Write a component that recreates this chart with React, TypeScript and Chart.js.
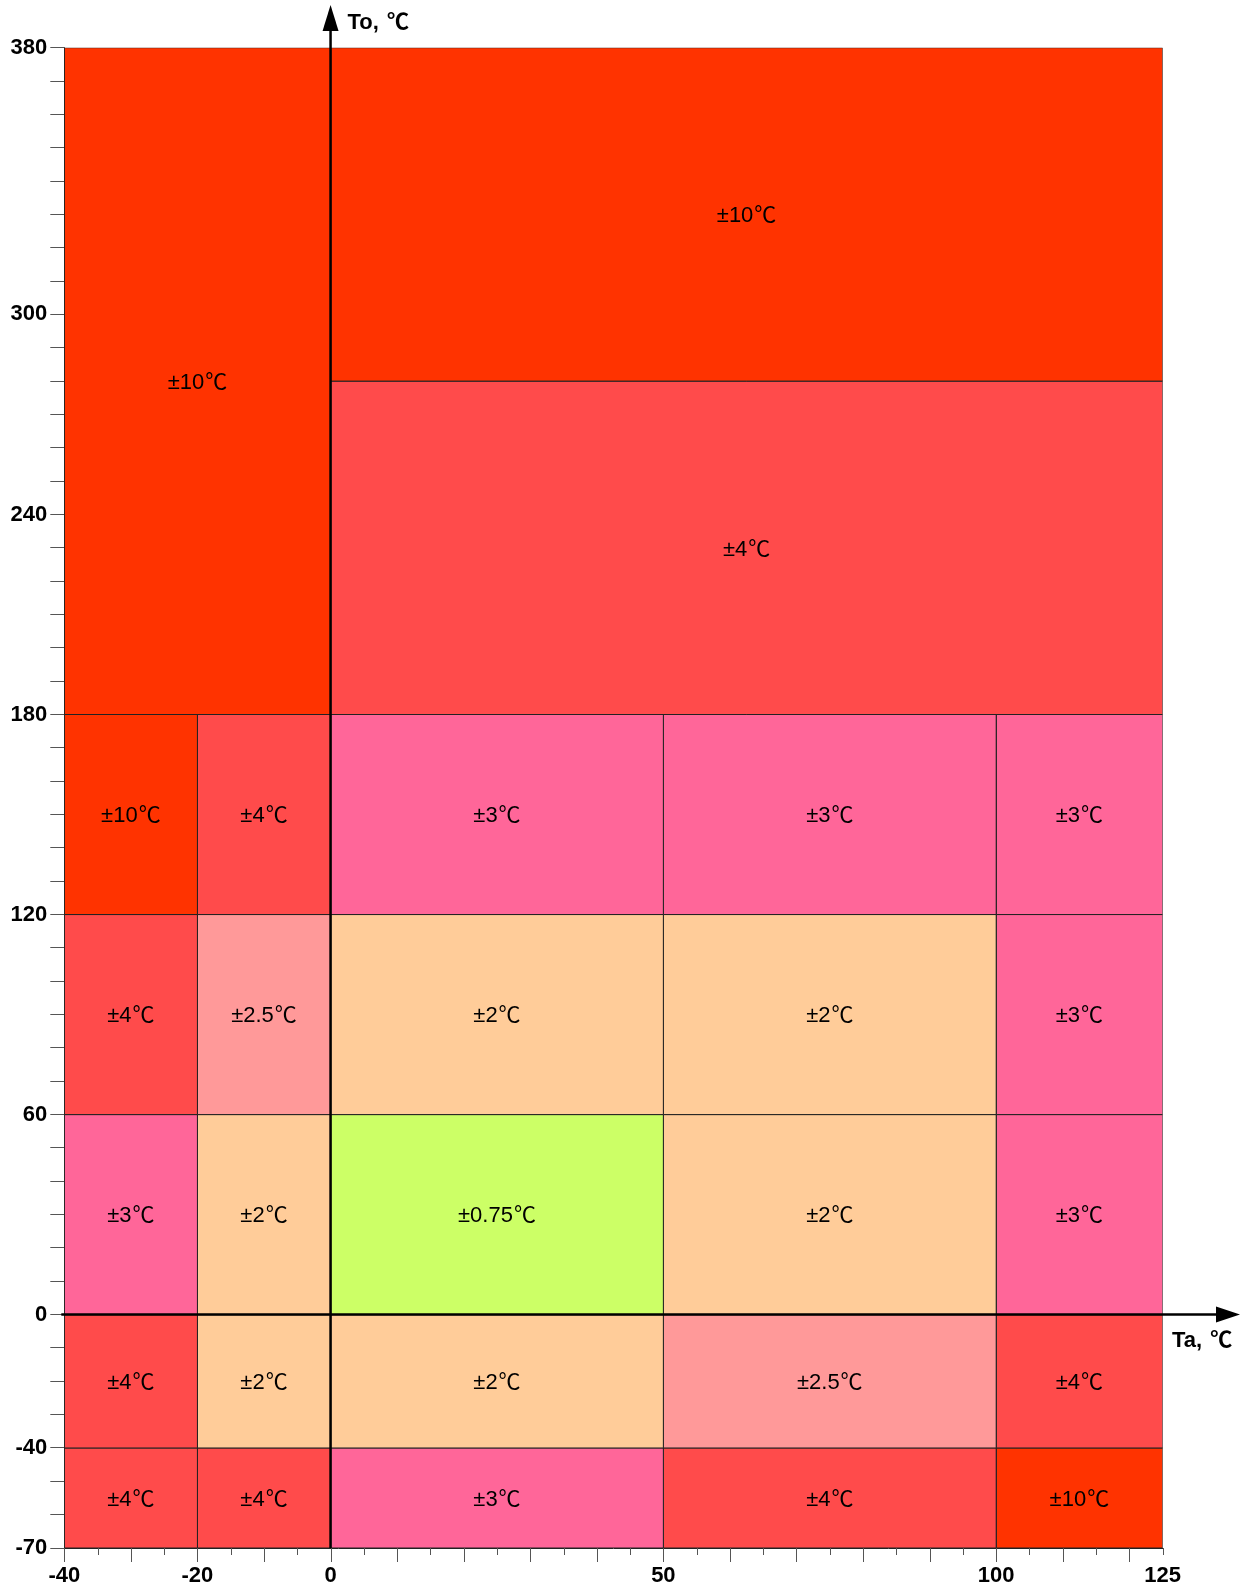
import React, { useEffect, useRef } from "react";
import { Chart, registerables } from "chart.js";

Chart.register(...registerables);

const WIDTH = 1249;
const HEIGHT = 1593;

// Cells of the accuracy map: Ta range (x), To range (y) and accuracy (±℃)
const cellTaFrom = [-40, 0, 0, -40, -20, 0, 50, 100, -40, -20, 0, 50, 100, -40, -20, 0, 50, 100, -40, -20, 0, 50, 100, -40, -20, 0, 50, 100];
const cellTaTo = [0, 125, 125, -20, 0, 50, 100, 125, -20, 0, 50, 100, 125, -20, 0, 50, 100, 125, -20, 0, 50, 100, 125, -20, 0, 50, 100, 125];
const cellToFrom = [180, 280, 180, 120, 120, 120, 120, 120, 60, 60, 60, 60, 60, 0, 0, 0, 0, 0, -40, -40, -40, -40, -40, -70, -70, -70, -70, -70];
const cellToTo = [380, 380, 280, 180, 180, 180, 180, 180, 120, 120, 120, 120, 120, 60, 60, 60, 60, 60, 0, 0, 0, 0, 0, -40, -40, -40, -40, -40];
const cellAccuracy = [10, 10, 4, 10, 4, 3, 3, 3, 4, 2.5, 2, 2, 3, 3, 2, 0.75, 2, 3, 4, 2, 2, 2.5, 4, 4, 4, 3, 4, 10];

const accuracyColors: Record<string, string> = {
  "10": "#FF3300",
  "4": "#FF4B4B",
  "3": "#FF6699",
  "2.5": "#FF9999",
  "2": "#FFCC99",
  "0.75": "#CCFF66",
};

const xTickValues = [-40, -35, -30, -25, -20, -15, -10, -5, 0, 5, 10, 15, 20, 25, 30, 35, 40, 45, 50, 55, 60, 65, 70, 75, 80, 85, 90, 95, 100, 105, 110, 115, 120, 125];
const xTickLabels = [-40, -20, 0, 50, 100, 125];
const yTickLabels = [380, 300, 240, 180, 120, 60, 0, -40, -70];
const yMin = -70;
const yMax = 380;
const yTickStep = 10;

const xTitle = "Ta, ";
const yTitle = "To, ";
const unit = "℃";

const LATIN = '"Liberation Sans", Arial, sans-serif';
const CJK = '"Noto Sans CJK JP", "Noto Sans CJK SC", sans-serif';

// draws "main" in a Latin face and "tail" (℃) in a CJK face on a shared
// alphabetic baseline, vertically centred on y by cap height
function drawMixed(ctx: CanvasRenderingContext2D, main: string, tail: string, x: number, y: number, align: "left" | "center", size: number, bold: boolean, gap: number) {
  const w = bold ? "bold " : "";
  const fMain = `${w}${size}px ${LATIN}`;
  const fTail = `${w}${size}px ${CJK}`;
  ctx.font = fMain;
  const wMain = ctx.measureText(main).width;
  ctx.font = fTail;
  const wTail = ctx.measureText(tail).width;
  const total = wMain + gap + wTail;
  const left = align === "center" ? x - total / 2 : x;
  const baseline = y + size * 0.358;
  ctx.textAlign = "left";
  ctx.textBaseline = "alphabetic";
  ctx.font = fMain;
  ctx.fillText(main, left, baseline);
  ctx.font = fTail;
  ctx.fillText(tail, left + wMain + gap, baseline);
}

const overlayPlugin = {
  id: "overlay",
  afterDatasetsDraw(chart: any) {
    const ctx = chart.ctx;
    const xs = chart.scales.x;
    const ys = chart.scales.y;
    const area = chart.chartArea;
    ctx.save();

    // cell labels
    ctx.fillStyle = "#000";
    for (let i = 0; i < cellAccuracy.length; i++) {
      const cx = (xs.getPixelForValue(cellTaFrom[i]) + xs.getPixelForValue(cellTaTo[i])) / 2;
      const cy = (ys.getPixelForValue(cellToFrom[i]) + ys.getPixelForValue(cellToTo[i])) / 2;
      drawMixed(ctx, `±${cellAccuracy[i]}`, unit, cx, cy, "center", 22, false, 1);
    }

    // x tick marks (long on multiples of 10, short otherwise)
    ctx.strokeStyle = "#555";
    ctx.lineWidth = 1;
    for (const v of xTickValues) {
      const px = Math.round(xs.getPixelForValue(v)) + 0.5;
      const len = v % 10 === 0 ? 14 : 7;
      ctx.beginPath();
      ctx.moveTo(px, area.bottom);
      ctx.lineTo(px, area.bottom + len);
      ctx.stroke();
    }

    // zero axes with arrows
    const x0 = xs.getPixelForValue(0);
    const y0 = ys.getPixelForValue(0);
    ctx.strokeStyle = "#000";
    ctx.fillStyle = "#000";
    ctx.lineWidth = 2.5;
    const vTip = 5;
    ctx.beginPath();
    ctx.moveTo(x0, area.bottom);
    ctx.lineTo(x0, vTip + 20);
    ctx.stroke();
    ctx.beginPath();
    ctx.moveTo(x0, vTip);
    ctx.lineTo(x0 - 8, vTip + 26);
    ctx.lineTo(x0 + 8, vTip + 26);
    ctx.closePath();
    ctx.fill();
    const hTip = 1240;
    ctx.beginPath();
    ctx.moveTo(area.left - 3, y0);
    ctx.lineTo(hTip - 20, y0);
    ctx.stroke();
    ctx.beginPath();
    ctx.moveTo(hTip, y0);
    ctx.lineTo(hTip - 24, y0 - 8);
    ctx.lineTo(hTip - 24, y0 + 8);
    ctx.closePath();
    ctx.fill();

    // axis titles
    drawMixed(ctx, yTitle, unit, x0 + 17, 21, "left", 22, true, 2);
    drawMixed(ctx, xTitle, unit, 1172, y0 + 25, "left", 22, true, 2);

    ctx.restore();
  },
};

export default function App() {
  const canvasRef = useRef<HTMLCanvasElement | null>(null);

  useEffect(() => {
    const canvas = canvasRef.current;
    if (!canvas) return;

    const datasets = cellAccuracy.map((acc, i) => ({
      label: `±${acc}℃`,
      data: [
        { x: cellTaFrom[i], y: cellToFrom[i] },
        { x: cellTaTo[i], y: cellToFrom[i] },
        { x: cellTaTo[i], y: cellToTo[i] },
        { x: cellTaFrom[i], y: cellToTo[i] },
        { x: cellTaFrom[i], y: cellToFrom[i] },
      ],
      showLine: true,
      fill: "shape",
      backgroundColor: accuracyColors[String(acc)],
      borderColor: "#222",
      borderWidth: 1,
      pointRadius: 0,
      pointHoverRadius: 0,
      tension: 0,
    }));

    const yTicks: number[] = [];
    for (let v = yMax; v >= yMin; v -= yTickStep) yTicks.push(v);

    const tickFont = { family: LATIN, size: 22, weight: "bold" as const };

    const chart = new Chart(canvas, {
      type: "scatter",
      data: { datasets: datasets as any },
      options: {
        animation: false,
        responsive: false,
        events: [],
        layout: { padding: { top: 47.7, right: 86.4, left: 0, bottom: 0 } },
        plugins: {
          legend: { display: false },
          tooltip: { enabled: false },
        },
        scales: {
          x: {
            type: "linear",
            min: -40,
            max: 125,
            afterBuildTicks: (scale: any) => {
              scale.ticks = xTickValues.map((v) => ({ value: v }));
            },
            afterFit: (scale: any) => {
              scale.height = HEIGHT - 1548;
            },
            grid: { drawOnChartArea: false, drawTicks: false },
            border: { display: true, color: "#222", width: 1 },
            ticks: {
              autoSkip: false,
              maxRotation: 0,
              padding: 15,
              color: "#000",
              font: tickFont,
              callback: (value: any) => (xTickLabels.includes(Number(value)) ? String(value) : ""),
            },
          },
          y: {
            type: "linear",
            min: yMin,
            max: yMax,
            afterBuildTicks: (scale: any) => {
              scale.ticks = yTicks.map((v) => ({ value: v }));
            },
            afterFit: (scale: any) => {
              scale.width = 64.3;
            },
            grid: { drawOnChartArea: false, drawTicks: true, tickLength: 14, tickColor: "#555" },
            border: { display: true, color: "#666", width: 1 },
            ticks: {
              autoSkip: false,
              padding: 3,
              color: "#000",
              font: tickFont,
              callback: (value: any) => (yTickLabels.includes(Number(value)) ? String(value) : ""),
            },
          },
        },
      },
      plugins: [overlayPlugin],
    });

    return () => chart.destroy();
  }, []);

  return (
    <div style={{ position: "absolute", left: 0, top: 0, width: WIDTH, height: HEIGHT, background: "#fff" }}>
      <canvas ref={canvasRef} width={WIDTH} height={HEIGHT} style={{ display: "block" }} />
    </div>
  );
}
